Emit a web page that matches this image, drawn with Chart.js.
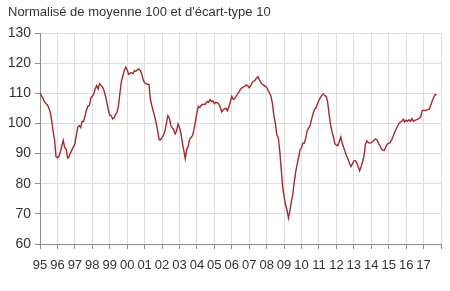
<!DOCTYPE html>
<html>
<head>
<meta charset="utf-8">
<script src="https://cdn.jsdelivr.net/npm/chart.js@4.4.0/dist/chart.umd.min.js"></script>
<style>
  html, body { margin: 0; padding: 0; background: #fff; }
  #wrap { position: relative; width: 450px; height: 291px; }
  #chart { position: absolute; left: 0; top: 0; }
  #title {
    position: absolute; left: 8px; top: 4px;
    font: 13px "Liberation Sans", Arial, sans-serif; color: #333;
    white-space: nowrap;
  }
</style>
</head>
<body>
<div id="wrap">
  <canvas id="chart" width="450" height="291"></canvas>
  <div id="title">Normalisé de moyenne 100 et d'écart-type 10</div>
</div>
<script>
// monthly series, starting January 1995
const yearLabels = ['95', '96', '97', '98', '99', '00', '01', '02', '03', '04', '05', '06',
                    '07', '08', '09', '10', '11', '12', '13', '14', '15', '16', '17'];
const yTicks = [60, 70, 80, 90, 100, 110, 120, 130];

const series = [
  110, 109.2, 108.4, 107.2, 106.6, 106.2, 105.2, 103.8, 101, 97.5, 94.6, 89,        // 1995
  88.6, 89, 90.5, 92.5, 94.4, 92, 91.5, 88.5, 89, 90.2, 91.3, 92.2,                 // 1996
  93.2, 96, 98.8, 99.3, 98.6, 100.7, 100.6, 102.5, 104.5, 105.7, 106, 108.5,        // 1997
  109, 109.8, 111.5, 112.6, 111.4, 113.2, 112.6, 112.1, 111, 109.2, 107, 104.5,     // 1998
  102.7, 102.6, 101.5, 101.8, 102.9, 103.7, 105.8, 110, 113.8, 115.8, 117.5, 118.7, // 1999
  117.8, 116.3, 116.6, 116.9, 116.5, 117.5, 117.3, 117.8, 118, 117.6, 116.5, 114.5, // 2000
  113.5, 113.2, 113, 112.9, 108, 105.8, 104, 102.2, 100, 97.5, 94.6, 94.6,          // 2001
  95.4, 96.1, 97.5, 100, 102.6, 101.8, 99.5, 98.5, 98, 96.5, 97.5, 99.8,            // 2002
  98.6, 96.8, 93.5, 91, 88.3, 91.5, 92.4, 94.8, 95.3, 96, 98, 100.8,                // 2003
  103.5, 105.7, 105.3, 106, 106.4, 106.3, 106.5, 107.3, 107, 107.9, 107.3, 107.5,   // 2004
  106.5, 107, 106.9, 106.5, 105.5, 103.8, 104.5, 104.9, 105, 104.2, 105.5, 107.2,   // 2005
  109, 108, 108.3, 109, 109.8, 110.5, 111.3, 111.8, 112.1, 112.3, 112.8, 112.5,     // 2006
  111.8, 112.5, 113.5, 114, 114.3, 115, 115.5, 114.5, 113.6, 113, 112.7, 112.3,     // 2007
  112, 111, 110, 109, 106.5, 102.5, 100, 96.3, 95.2, 91, 85, 79,                    // 2008
  75.8, 73, 71.3, 68.6, 71, 74, 76.5, 80.5, 84, 86.5, 88.7, 91.3,                   // 2009
  92, 93.5, 93.5, 95.3, 97.8, 98.5, 99.5, 101.5, 103.3, 104.7, 105.1, 106.5,        // 2010
  107.7, 108.6, 109.4, 109.8, 109.2, 109, 107, 103, 99.5, 97.2, 95.5, 93.2,         // 2011
  92.8, 92.6, 94, 95.5, 93.5, 92, 90.6, 89.3, 88.2, 86.8, 85.7, 86.6,               // 2012
  87.5, 87.7, 87, 85.5, 84.3, 85.5, 87.2, 89.2, 93, 94.2, 93.6, 93.5,               // 2013
  93.6, 94, 94.5, 94.9, 94.5, 93.4, 92.6, 91.6, 91.1, 91, 92.2, 93.2,               // 2014
  93.4, 93.6, 94.5, 95.7, 96.9, 98, 99, 99.9, 100.4, 100.7, 101.4, 100.5,           // 2015
  101.1, 100.7, 101.2, 100.7, 101.6, 100.7, 101, 101.2, 101.4, 101.7, 102.2, 104.2, // 2016
  104.4, 104.3, 104.4, 104.6, 104.8, 106, 107.5, 108.7, 109.6, 109.4                // 2017
];

const gridColor = '#dedede';
const axisColor = '#8c8c8c';
const textColor = '#333';
const fontFamily = '"Liberation Sans", Arial, sans-serif';

new Chart(document.getElementById('chart'), {
  type: 'line',
  data: {
    datasets: [{
      data: series.map((v, i) => ({ x: i, y: v })),
      borderColor: '#a02a2e',
      borderWidth: 1.4,
      pointRadius: 0,
      tension: 0,
      fill: false
    }]
  },
  options: {
    responsive: false,
    animation: false,
    layout: { padding: { left: 0, right: 9, top: 33, bottom: 0 } },
    plugins: { legend: { display: false }, tooltip: { enabled: false } },
    scales: {
      x: {
        type: 'linear',
        min: 0,
        max: yearLabels.length * 12,
        afterBuildTicks: scale => {
          scale.ticks = [];
          for (let k = 0; k <= yearLabels.length; k++) scale.ticks.push({ value: k * 12 });
        },
        afterFit: scale => { scale.height = 47; },
        grid: { color: gridColor, tickColor: axisColor, tickLength: 5 },
        border: { color: axisColor },
        ticks: {
          autoSkip: false,
          maxRotation: 0,
          padding: 9,
          color: textColor,
          font: { family: fontFamily, size: 13 },
          callback: v => yearLabels[Math.round(v / 12)] || ''
        }
      },
      y: {
        min: yTicks[0],
        max: yTicks[yTicks.length - 1],
        afterBuildTicks: scale => { scale.ticks = yTicks.map(v => ({ value: v })); },
        afterFit: scale => { scale.width = 40; },
        grid: { color: gridColor, tickColor: axisColor, tickLength: 5 },
        border: { color: axisColor },
        ticks: {
          padding: 4,
          color: textColor,
          font: { family: fontFamily, size: 14 }
        }
      }
    }
  }
});
</script>
</body>
</html>
